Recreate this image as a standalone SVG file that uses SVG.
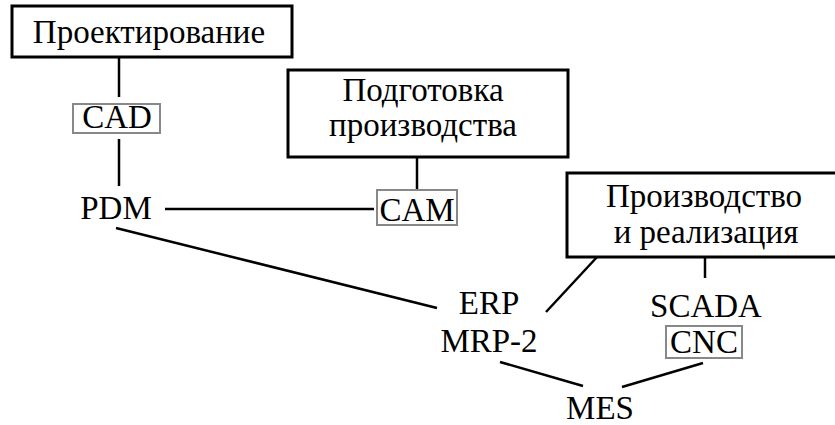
<svg xmlns="http://www.w3.org/2000/svg" width="835" height="425" viewBox="0 0 835 425">
<style>
.box{fill:#fff;stroke:#000;stroke-width:3}
.tag{fill:#fff;stroke:#888;stroke-width:2}
.ln{stroke:#000;stroke-width:2.5;fill:none}
text{font-family:"Liberation Serif","Times New Roman",serif;font-size:33px;fill:#000;text-anchor:middle}
</style>
<rect width="835" height="425" fill="#fff"/>
<g id="connectors">
<line class="ln" x1="119" y1="58" x2="119" y2="97"/>
<line class="ln" x1="119" y1="139" x2="119" y2="186"/>
<line class="ln" x1="165" y1="209" x2="374" y2="209"/>
<line class="ln" x1="417" y1="158" x2="417" y2="190"/>
<line class="ln" x1="116" y1="228" x2="437" y2="308"/>
<line class="ln" x1="546" y1="312" x2="598" y2="256"/>
<line class="ln" x1="705" y1="257" x2="705" y2="278"/>
<line class="ln" x1="500" y1="362" x2="583" y2="386"/>
<line class="ln" x1="622" y1="387" x2="703" y2="363"/>
</g>
<g id="design">
<rect class="box" x="12" y="6" width="280" height="51"/>
<text x="149" y="43">Проектирование</text>
</g>
<g id="cad">
<rect class="tag" x="73" y="104" width="87" height="29"/>
<text x="117" y="128">CAD</text>
</g>
<g id="pdm">
<text x="116" y="219">PDM</text>
</g>
<g id="prep">
<rect class="box" x="288" y="70" width="280" height="87"/>
<text x="423" y="101" font-size="32">Подготовка</text>
<text x="423" y="136" font-size="32">производства</text>
</g>
<g id="cam">
<rect class="tag" x="377" y="190" width="80" height="35"/>
<text x="417" y="221">CAM</text>
</g>
<g id="prod">
<rect class="box" x="567" y="173" width="275" height="84"/>
<text x="704" y="207">Производство</text>
<text x="706" y="243">и реализация</text>
</g>
<g id="erp">
<text x="489" y="314">ERP</text>
<text x="489" y="352">MRP-2</text>
</g>
<g id="scada">
<text x="706" y="317">SCADA</text>
</g>
<g id="cnc">
<rect class="tag" x="666" y="326" width="76" height="32"/>
<text x="704" y="353">CNC</text>
</g>
<g id="mes">
<text x="600" y="419">MES</text>
</g>
</svg>
